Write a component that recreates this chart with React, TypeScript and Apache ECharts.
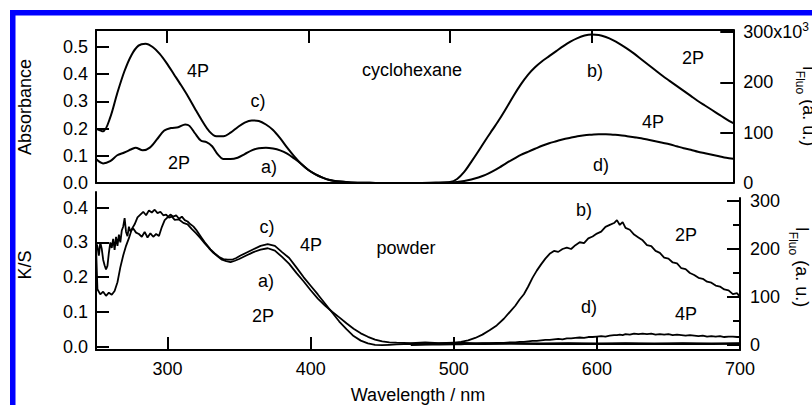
import React, { useEffect, useRef } from "react";
import * as echarts from "echarts";

// ---------------- data ----------------
// Top panel: cyclohexane solution
const absWavelength4P = [250,255,260,265,270,275,280,285,290,295,300,305,310,315,320,325,330,335,340,345,350,355,360,365,370,375,380,385,390,395,400,405,410,415,420,430,440,450,470,500];
const absorbance4P = [0.200,0.190,0.240,0.330,0.410,0.470,0.505,0.512,0.500,0.475,0.440,0.400,0.360,0.318,0.272,0.228,0.190,0.172,0.172,0.185,0.205,0.222,0.230,0.228,0.215,0.195,0.165,0.130,0.098,0.070,0.048,0.032,0.020,0.011,0.006,0.002,0.001,0,0,0];

const absWavelength2P = [250,255,260,265,270,275,278,283,288,293,298,303,308,313,316,320,324,328,332,336,340,345,350,355,360,365,370,375,380,385,390,395,400,405,410,415,420,430,440,450,470,500];
const absorbance2P = [0.088,0.072,0.080,0.102,0.112,0.124,0.130,0.120,0.130,0.160,0.192,0.202,0.205,0.215,0.210,0.182,0.156,0.150,0.135,0.105,0.088,0.088,0.093,0.106,0.120,0.128,0.130,0.127,0.120,0.108,0.090,0.070,0.048,0.032,0.020,0.011,0.006,0.002,0.001,0,0,0];

const fluoWavelength = [480,490,500,505,510,515,520,525,530,535,540,545,550,555,560,565,570,575,580,585,590,595,600,605,610,615,620,625,630,635,640,645,650,655,660,665,670,675,680,685,690,695,700];
const fluo2PSolution = [0,1,2,8,22,42,63,85,106,127,150,174,196,215,230,242,252,262,272,281,288,293,295,294,290,284,276,267,257,246,235,224,213,203,193,183,173,163,154,145,136,127,119];
const fluo4PSolution = [0,0,1,2,4,7,11,16,23,31,40,48,56,62,68,74,79,83,87,90,93,95,96,97,97,96,95,93,91,89,86,83,80,77,73,69,66,62,59,56,53,50,48];

// Bottom panel: powder
const ksWavelength2P = [250,251,253,255,257,259,261,263,265,267,269,271,273,275,277,279,281,283,285,287,289,291,293,295,297,299,301,303,305,308,311,314,317,320,323,326,329,332,335,338,341,344,347,350,355,360,365,370,375,380,385,390,395,400,405,410,415,420,425,430,435,440,445,450,455,460,470,480,490,500,520,540,560,580,600,620,640,660,680,700];
const ks2P = [0.290,0.165,0.150,0.158,0.146,0.155,0.149,0.160,0.185,0.228,0.262,0.290,0.312,0.338,0.352,0.372,0.380,0.388,0.378,0.392,0.386,0.394,0.384,0.388,0.378,0.380,0.371,0.374,0.365,0.366,0.356,0.352,0.338,0.326,0.312,0.297,0.283,0.270,0.260,0.250,0.246,0.243,0.247,0.252,0.262,0.272,0.279,0.283,0.276,0.258,0.238,0.212,0.188,0.162,0.138,0.118,0.100,0.084,0.067,0.051,0.038,0.028,0.020,0.015,0.012,0.011,0.010,0.012,0.010,0.011,0.009,0.010,0.009,0.010,0.009,0.010,0.009,0.010,0.009,0.010];

const ksWavelength4P = [250,251,252,253,254,255,256,257,258,259,260,261,262,263,264,265,266,267,268,269,270,271,272,273,274,276,278,280,282,284,286,288,290,292,294,296,298,300,302,304,306,308,310,312,314,316,318,320,322,324,326,328,330,333,336,339,342,345,348,351,355,360,365,370,375,380,385,390,395,400,405,410,415,420,425,430,435,440,445,450,455,460,470,480,490,500,520,540,560,580,600,620,640,660,680,700];
const ks4P = [0.300,0.288,0.262,0.300,0.282,0.250,0.234,0.222,0.232,0.270,0.300,0.284,0.310,0.278,0.316,0.290,0.322,0.300,0.334,0.345,0.370,0.330,0.318,0.345,0.332,0.340,0.328,0.324,0.316,0.330,0.314,0.326,0.316,0.324,0.318,0.344,0.364,0.372,0.380,0.374,0.378,0.368,0.374,0.364,0.360,0.352,0.346,0.336,0.324,0.312,0.300,0.290,0.280,0.268,0.258,0.252,0.250,0.250,0.255,0.262,0.270,0.280,0.290,0.295,0.290,0.272,0.255,0.228,0.200,0.175,0.150,0.124,0.098,0.072,0.050,0.030,0.017,0.009,0.005,0.004,0.005,0.006,0.008,0.007,0.009,0.008,0.007,0.008,0.007,0.008,0.007,0.008,0.007,0.008,0.007,0.008];

const powderFluoWavelength = [470,480,490,500,505,510,515,520,525,530,535,540,543,546,549,552,555,558,561,564,567,570,573,576,579,582,585,588,591,594,597,600,603,606,609,612,614,616,618,620,623,626,629,632,635,638,641,644,647,650,653,656,659,662,665,668,671,674,677,680,683,686,689,692,695,698,700];
const fluo2PPowder = [1,2,3,5,7,10,15,22,31,41,55,72,82,95,106,122,140,155,168,180,190,196,194,200,203,200,208,214,212,222,226,232,236,246,250,254,260,250,256,244,240,230,224,218,208,206,196,192,182,180,172,170,160,158,150,146,140,138,132,130,124,122,116,114,106,108,100];
const fluo4PPowder = [0,1,1,2,2,3,3,4,4,5,5,6,6,7,7,8,9,9,10,11,11,12,13,12,14,14,15,16,15,17,17,18,19,18,20,21,21,22,21,23,22,24,23,24,23,24,22,23,22,23,21,22,21,20,21,20,19,20,18,19,18,19,17,18,18,17,17];

// axis ticks / labels
const xTickValues = [300, 400, 500, 600];
const xLabelValues = [300, 400, 500, 600, 700];
const absTickValues = [0, 0.1, 0.2, 0.3, 0.4, 0.5];
const ksTickValues = [0, 0.1, 0.2, 0.3, 0.4];
const fluoTickValues = [0, 100, 200, 300];
const fluoMinorValues = [50, 150, 250];

// annotation texts
const annotations = [
  { text: "4P", x: 198, y: 71 },
  { text: "c)", x: 258, y: 101 },
  { text: "2P", x: 179, y: 163 },
  { text: "a)", x: 269, y: 167 },
  { text: "cyclohexane", x: 412, y: 70 },
  { text: "b)", x: 595, y: 71 },
  { text: "2P", x: 693, y: 58 },
  { text: "4P", x: 653, y: 122 },
  { text: "d)", x: 601, y: 165 },
  { text: "c)", x: 267, y: 227 },
  { text: "4P", x: 311, y: 245 },
  { text: "powder", x: 406, y: 248 },
  { text: "a)", x: 266, y: 281 },
  { text: "2P", x: 263, y: 316 },
  { text: "b)", x: 584, y: 210 },
  { text: "2P", x: 686, y: 235 },
  { text: "d)", x: 589, y: 307 },
  { text: "4P", x: 686, y: 314 },
];

const FONT = "'Liberation Sans', Arial, Helvetica, sans-serif";
const BLACK = "#000";

const zip = (xs: number[], ys: number[]) => xs.map((x, i) => [x, ys[i]]);

export default function App() {
  const ref = useRef<HTMLDivElement>(null);

  useEffect(() => {
    if (!ref.current) return;
    const chart = echarts.init(ref.current, undefined, { renderer: "svg" });

    const lineStyle = { color: BLACK, width: 2 };
    const labelStyle = { color: BLACK, fontSize: 18, fontFamily: FONT };

    const baseX = {
      type: "value" as const,
      min: 250,
      max: 700,
      splitLine: { show: false },
    };

    const line = (data: number[][], xAxisIndex: number, yAxisIndex: number, smooth: boolean | number) => ({
      type: "line",
      xAxisIndex,
      yAxisIndex,
      data,
      showSymbol: false,
      symbol: "none",
      smooth,
      silent: true,
      lineStyle: { color: BLACK, width: smooth ? 2 : 1.8 },
    });

    const text = (t: string, x: number, y: number) => ({
      type: "text",
      x,
      y,
      z: 100,
      style: {
        text: t,
        fill: BLACK,
        fontSize: 18,
        fontFamily: FONT,
        align: "center",
        verticalAlign: "middle",
      },
    });

    const richName = (x: number, y: number) => ({
      type: "text",
      x,
      y,
      z: 100,
      rotation: -Math.PI / 2,
      style: {
        text: "{m|I}{s|Fluo}{m| (a. u.)}",
        fill: BLACK,
        fontFamily: FONT,
        fontSize: 18,
        align: "center",
        verticalAlign: "middle",
        rich: {
          m: { fontSize: 18, fontFamily: FONT, fill: BLACK, lineHeight: 26 },
          s: { fontSize: 12, fontFamily: FONT, fill: BLACK, padding: [18, 0, 0, 0] },
        },
      },
    });

    const option: any = {
      animation: false,
      backgroundColor: "#fff",
      textStyle: { fontFamily: FONT },
      grid: [
        { left: 96, top: 30, width: 644, height: 153 },
        { left: 96, top: 192, width: 644, height: 158 },
        { left: 96, top: 198, width: 644, height: 152 },
      ],
      xAxis: [
        {
          ...baseX,
          gridIndex: 0,
          position: "bottom",
          axisLine: { show: true, onZero: false, lineStyle },
          axisTick: { show: false },
          axisLabel: { show: false },
        },
        {
          ...baseX,
          gridIndex: 0,
          position: "top",
          axisLine: { show: true, onZero: false, lineStyle },
          axisTick: { show: true, inside: true, length: 13, lineStyle, customValues: xTickValues },
          axisLabel: { show: false },
        },
        {
          ...baseX,
          gridIndex: 1,
          position: "bottom",
          axisLine: { show: true, onZero: false, lineStyle },
          axisTick: { show: true, inside: true, length: 13, lineStyle, customValues: xTickValues },
          axisLabel: { ...labelStyle, margin: 10, customValues: xLabelValues },
          name: "Wavelength / nm",
          nameLocation: "middle",
          nameGap: 36,
          nameTextStyle: { ...labelStyle },
        },
        {
          ...baseX,
          gridIndex: 2,
          show: false,
        },
      ],
      yAxis: [
        {
          type: "value",
          gridIndex: 0,
          position: "left",
          min: 0,
          max: 0.5625,
          splitLine: { show: false },
          axisLine: { show: true, onZero: false, lineStyle },
          axisTick: { show: true, inside: true, length: 13, lineStyle, customValues: absTickValues },
          axisLabel: {
            ...labelStyle,
            margin: 8,
            customValues: absTickValues,
            formatter: (v: number) => v.toFixed(1),
          },
        },
        {
          type: "value",
          gridIndex: 0,
          position: "right",
          min: 0,
          max: 304,
          splitLine: { show: false },
          axisLine: { show: true, onZero: false, lineStyle },
          axisTick: { show: true, inside: true, length: 13, lineStyle, customValues: fluoTickValues },
          axisLabel: {
            ...labelStyle,
            margin: 10,
            customValues: fluoTickValues,
            formatter: (v: number) => (v === 300 ? "300x10{sup|3}" : String(v)),
            rich: { sup: { fontSize: 12, fontFamily: FONT, color: BLACK, padding: [0, 0, 10, 0] } },
          },
        },
        {
          type: "value",
          gridIndex: 1,
          position: "left",
          min: -0.01,
          max: 0.445,
          splitLine: { show: false },
          axisLine: { show: true, onZero: false, lineStyle },
          axisTick: { show: true, inside: true, length: 13, lineStyle, customValues: ksTickValues },
          axisLabel: {
            ...labelStyle,
            margin: 8,
            customValues: ksTickValues,
            formatter: (v: number) => v.toFixed(1),
          },
        },
        {
          type: "value",
          gridIndex: 2,
          position: "right",
          min: -10,
          max: 306,
          splitLine: { show: false },
          axisLine: { show: true, onZero: false, lineStyle },
          axisTick: { show: true, inside: true, length: 13, lineStyle, customValues: fluoTickValues },
          axisLabel: {
            ...labelStyle,
            margin: 10,
            customValues: fluoTickValues,
            formatter: (v: number) => String(v),
          },
        },
        {
          type: "value",
          gridIndex: 2,
          position: "right",
          min: -10,
          max: 306,
          splitLine: { show: false },
          axisLine: { show: false },
          axisTick: { show: true, inside: true, length: 7, lineStyle, customValues: fluoMinorValues },
          axisLabel: { show: false },
        },
      ],
      series: [
        line(zip(absWavelength4P, absorbance4P), 0, 0, 0.3),
        line(zip(absWavelength2P, absorbance2P), 0, 0, 0.3),
        line(zip(fluoWavelength, fluo2PSolution), 0, 1, 0.3),
        line(zip(fluoWavelength, fluo4PSolution), 0, 1, 0.3),
        line(zip(ksWavelength2P, ks2P), 2, 2, false),
        line(zip(ksWavelength4P, ks4P), 2, 2, false),
        line(zip(powderFluoWavelength, fluo2PPowder), 3, 3, false),
        line(zip(powderFluoWavelength, fluo4PPowder), 3, 3, false),
      ],
      graphic: [
        {
          type: "rect",
          z: 100,
          shape: { x: 12.75, y: 12.75, width: 1000, height: 1000 },
          style: { fill: "none", stroke: "#0000ff", lineWidth: 5.5 },
        },
        {
          type: "text",
          x: 25,
          y: 107,
          z: 100,
          rotation: Math.PI / 2,
          style: { text: "Absorbance", fill: BLACK, fontSize: 18, fontFamily: FONT, align: "center", verticalAlign: "middle" },
        },
        {
          type: "text",
          x: 25,
          y: 265,
          z: 100,
          rotation: Math.PI / 2,
          style: { text: "K/S", fill: BLACK, fontSize: 18, fontFamily: FONT, align: "center", verticalAlign: "middle" },
        },
        richName(809, 106),
        richName(802, 267),
        ...annotations.map((a) => text(a.text, a.x, a.y)),
      ],
    };

    chart.setOption(option);
    return () => chart.dispose();
  }, []);

  return (
    <div
      ref={ref}
      style={{ position: "fixed", left: 0, top: 0, width: 812, height: 405, background: "#fff" }}
    />
  );
}
